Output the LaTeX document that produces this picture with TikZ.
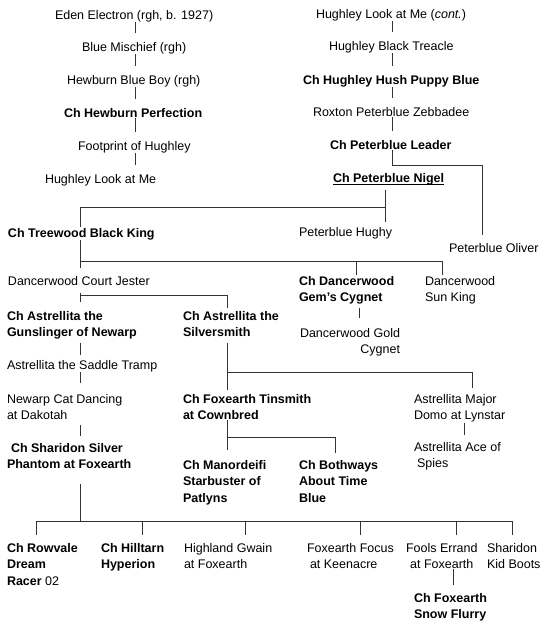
\documentclass[tikz,border=0pt]{standalone}
\usepackage{fontspec}
\setmainfont{Liberation Sans}
\usepackage{tikz}

\tikzset{
  dog/.style={anchor=north west, inner sep=0pt, outer sep=0pt, align=left},
  champ/.style={dog, font=\bfseries},
  link/.style={draw=black!80, line width=0.7pt},
}

\begin{document}
\fontsize{12.5}{16.5}\selectfont
\begin{tikzpicture}[x=1pt,y=-1pt]
      \useasboundingbox (0,0) rectangle (541,621);
      % columns of the lines
      \coordinate (cL) at (135,0);
      \coordinate (cR) at (392,0);
      \coordinate (cO) at (482,0);
      \coordinate (cT) at (80,0);
      \coordinate (cG) at (356,0);
      \coordinate (cK) at (442,0);
      \coordinate (cS) at (227,0);
      \coordinate (cY) at (359,0);
      \coordinate (cD) at (472,0);
      \coordinate (cA) at (464,0);
      \coordinate (cB) at (335,0);
      \coordinate (cF) at (453,0);
      % bars
      \coordinate (lb) at (392,165);
      \coordinate (nb) at (385,207);
      \coordinate (tb) at (80,261);
      \coordinate (jb) at (80,295);
      \coordinate (sb) at (227,372);
      \coordinate (fb) at (227,437);
      \coordinate (pb) at (80,521);
      % left column
      \node[dog] (eden) at (55,10.4) {Eden Electron (rgh, b. 1927)};
      \node[dog] (mischief) at (82,42.4) {Blue Mischief (rgh)};
      \node[dog] (blueboy) at (67,75.4) {Hewburn Blue Boy (rgh)};
      \node[champ] (perfection) at (64,108.4) {Ch Hewburn Perfection};
      \node[dog] (footprint) at (78,141.4) {Footprint of Hughley};
      \node[dog] (lookme) at (45,174.4) {Hughley Look at Me};
      % right column
      \node[dog] (lookcont) at (316,9.4) {Hughley Look at Me (\textit{cont.})};
      \node[dog] (treacle) at (329,41.4) {Hughley Black Treacle};
      \node[champ] (hushpuppy) at (303,75.4) {Ch Hughley Hush Puppy Blue};
      \node[dog] (zebbadee) at (313,107.4) {Roxton Peterblue Zebbadee};
      \node[champ] (leader) at (330,140.4) {Ch Peterblue Leader};
      \node[champ] (nigel) at (333,173.4) {\underline{\raisebox{0pt}[\height][0pt]{Ch Peterblue Nigel}}};
      \node[dog] (oliver) at (449,243.4) {Peterblue Oliver};
      \node[dog] (hughy) at (299,227.4) {Peterblue Hughy};
      \node[champ] (treewood) at (8,228.4) {Ch Treewood Black King};
      \node[dog] (jester) at (8,276.4) {Dancerwood Court Jester};
      \node[champ] (gem) at (299,276.4) {Ch Dancerwood\\Gem's Cygnet};
      \node[dog] (sunking) at (425,276.4) {Dancerwood\\Sun King};
      \node[dog, align=right] (gold) at (300,328.4) {Dancerwood Gold\\Cygnet};
      \node[champ] (gunsl) at (7,311.4) {Ch Astrellita the\\Gunslinger of Newarp};
      \node[champ] (silver) at (183,311.4) {Ch Astrellita the\\Silversmith};
      \node[dog] (saddle) at (7,360.4) {Astrellita the Saddle Tramp};
      \node[dog] (newarp) at (7,394.4) {Newarp Cat Dancing\\at Dakotah};
      \node[champ] (phantom) at (7,443.4) {\hspace*{4pt}Ch Sharidon Silver\\Phantom at Foxearth};
      \node[champ] (tinsmith) at (183,394.4) {Ch Foxearth Tinsmith\\at Cownbred};
      \node[dog] (domo) at (414,394.4) {Astrellita Major\\Domo at Lynstar};
      \node[dog] (ace) at (414,442.4) {Astrellita Ace of\\\hspace*{3pt}Spies};
      \node[champ] (manordeifi) at (183,460.4) {Ch Manordeifi\\Starbuster of\\Patlyns};
      \node[champ] (bothways) at (299,460.4) {Ch Bothways\\About Time\\Blue};
      % bottom row
      \node[dog] (rowvale) at (7,543.4) {\textbf{Ch Rowvale}\\\textbf{Dream}\\\textbf{Racer} 02};
      \node[champ] (hilltarn) at (101,543.4) {Ch Hilltarn\\Hyperion};
      \node[dog] (highland) at (184,543.4) {Highland Gwain\\at Foxearth};
      \node[dog] (focus) at (307,543.4) {Foxearth Focus\\\hspace*{3pt}at Keenacre};
      \node[dog, align=center] (fools) at (406,543.4) {Fools Errand\\at Foxearth};
      \node[dog] (sharidon) at (487,543.4) {Sharidon\\Kid Boots};
      \node[champ] (snowflurry) at (414,593.4) {Ch Foxearth\\Snow Flurry};
      % lines
      \foreach \a/\b in {eden/mischief, mischief/blueboy, blueboy/perfection, perfection/footprint, footprint/lookme}
        \draw[link, shorten >=9pt] (\a.south -| cL) -- (\b.north -| cL);
      \foreach \a/\b in {lookcont/treacle, treacle/hushpuppy, hushpuppy/zebbadee, zebbadee/leader}
        \draw[link, shorten >=9pt] (\a.south -| cR) -- (\b.north -| cR);
      \draw[link, shorten >=8pt] (leader.south -| lb) -- (lb) -| (oliver.north -| cO);
      \draw[link, shorten <=6pt, shorten >=5pt] (nigel.south -| nb) -- (hughy.north -| nb);
      \draw[link, shorten >=1.5pt] (nb) -| (treewood.north -| cT);
      \draw[link, shorten >=8pt] (treewood.south -| cT) -- (jester.north -| cT);
      \draw[link, shorten >=1.5pt] (tb) -| (gem.north -| cG);
      \draw[link, shorten >=1.5pt] (tb) -| (sunking.north -| cK);
      \draw[link, shorten <=3pt, shorten >=10pt] (gem.south -| cY) -- (gold.north -| cY);
      \draw[link, shorten <=7pt, shorten >=9pt] (jester.south -| jb) -- (gunsl.north -| jb);
      \draw[link, shorten >=3pt] (jb) -| (silver.north -| cS);
      \draw[link, shorten <=3.5pt, shorten >=5.5pt] (gunsl.south -| cT) -- (saddle.north -| cT);
      \draw[link, shorten >=11pt] (saddle.south -| cT) -- (newarp.north -| cT);
      \draw[link, shorten <=5pt, shorten >=7.5pt] (newarp.south -| cT) -- (phantom.north -| cT);
      \draw[link, shorten <=6pt, shorten >=4.5pt] (silver.south -| sb) -- (tinsmith.north -| sb);
      \draw[link, shorten >=6pt] (sb) -| (domo.north -| cD);
      \draw[link, shorten >=7.5pt] (domo.south -| cA) -- (ace.north -| cA);
      \draw[link, shorten >=10.5pt] (tinsmith.south -| fb) -- (manordeifi.north -| fb);
      \draw[link, shorten >=7pt] (fb) -| (bothways.north -| cB);
      \draw[link, shorten <=15pt] (phantom.south -| pb) -- (pb);
      \foreach \n/\x in {rowvale/36, hilltarn/142, highland/245, focus/360, fools/456, sharidon/512} {
        \coordinate (drop) at (\x,0);
        \draw[link, shorten >=8pt] (pb) -| (\n.north -| drop);
      }
      \draw[link, shorten >=8.5pt] (fools.south -| cF) -- (snowflurry.north -| cF);
    \end{tikzpicture}
\end{document}
